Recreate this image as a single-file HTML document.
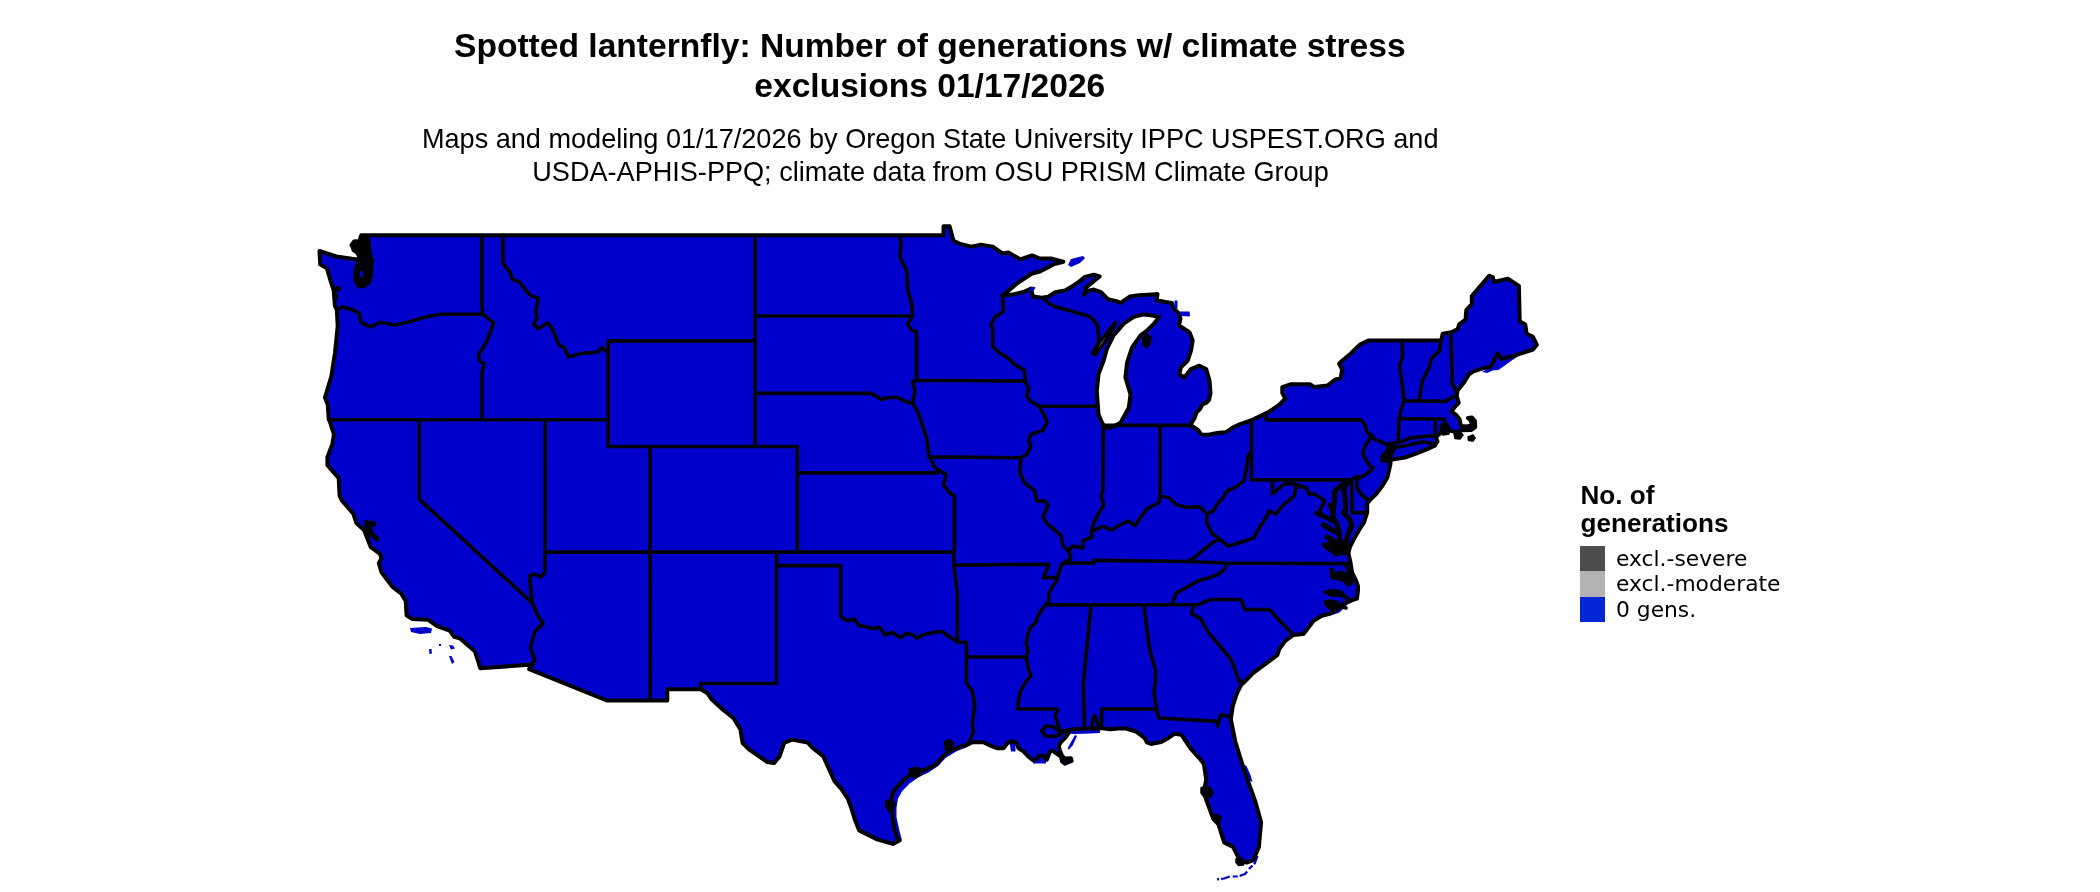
<!DOCTYPE html>
<html><head><meta charset="utf-8"><title>Spotted lanternfly generations map</title><style>html,body{margin:0;padding:0;background:#fff;width:2100px;height:892px;overflow:hidden}svg{display:block}text{will-change:transform}</style></head><body>
<svg width="2100" height="892" viewBox="0 0 2100 892">
<rect width="2100" height="892" fill="#fff"/>
<g font-family="Liberation Sans, Arial, sans-serif" fill="#000" text-anchor="middle">
<text x="929.8" y="56.9" font-size="33.6" font-weight="bold">Spotted lanternfly: Number of generations w/ climate stress</text>
<text x="929.8" y="96.9" font-size="33.6" font-weight="bold">exclusions 01/17/2026</text>
<text x="930.2" y="147.9" font-size="27.1">Maps and modeling 01/17/2026 by Oregon State University IPPC USPEST.ORG and</text>
<text x="930.5" y="180.5" font-size="27.1">USDA-APHIS-PPQ; climate data from OSU PRISM Climate Group</text>
</g>
<path fill="#0000cd" d="M1009.5,742.0 L1015.5,743.0 L1015.5,751.5 L1011.0,751.5Z M1032.0,757.5 L1046.0,757.0 L1046.0,763.5 L1033.0,763.5Z M1063.5,731.0 L1075.0,729.0 L1089.0,728.5 L1100.0,728.5 L1100.0,733.0 L1090.0,733.5 L1075.0,734.0 L1064.0,733.5Z M969.0,746.5 L957.0,751.0 L945.5,758.0 L938.5,765.8 L928.5,772.5 L919.0,777.0 L909.6,783.4 L902.3,791.0 L898.0,798.5 L896.5,808.0 L896.5,817.3 L899.3,830.0 L902.0,840.5 L899.6,840.5 L897.1,837.7 L893.9,826.7 L892.4,814.1 L890.8,804.7 L892.4,793.2 L897.1,786.9 L904.9,779.0 L912.8,772.8 L925.3,769.7 L935.0,765.0 L941.0,758.7 L947.3,752.4 L953.0,749.5 L961.0,746.5Z M1246.5,766.0 L1250.5,775.0 L1252.5,782.0 L1248.0,780.0 L1244.3,770.7 L1242.0,764.0Z M1359.0,583.0 L1360.0,590.0 L1358.5,599.5 L1347.5,604.5 L1339.5,612.5 L1329.0,616.0 L1329.7,613.7 L1335.8,610.7 L1341.9,604.6 L1349.9,600.6 L1357.0,598.5 L1358.0,586.4 L1356.0,580.4Z M1536.5,345.0 L1533.0,349.5 L1529.9,351.5 L1520.5,354.8 L1511.0,361.0 L1504.8,365.5 L1498.5,370.0 L1492.2,370.5 L1487.5,373.0 L1482.0,372.0 L1490.6,366.7 L1493.8,360.5 L1497.7,353.4 L1501.6,358.9 L1507.9,357.3 L1514.2,355.7 L1523.6,352.6Z"/>
<path fill="none" stroke="#0000cd" stroke-width="2.2" stroke-dasharray="9 2 5 3" stroke-linejoin="round" d="M1257.5,856.0 L1255.0,863.0 L1250.0,868.0 L1245.0,874.0 L1238.0,876.5 L1230.0,876.5 L1224.0,878.5 L1217.0,879.5"/>
<g stroke="#000" stroke-width="3.6" stroke-linejoin="round" stroke-linecap="round">
<path d="M361.2,235.3 L943.5,235.3 L943.5,226.3 L949.6,226.3 L953.5,240.7 L959.4,243.6 L971.2,246.6 L981.0,244.6 L992.7,246.6 L1002.5,253.4 L1008.4,252.5 L1020.2,259.3 L1032.0,255.4 L1039.8,258.5 L1050.8,258.5 L1063.3,261.7 L1053.5,264.4 L1040.0,271.5 L1032.0,273.5 L1018.2,282.5 L1002.5,295.6 L1012.4,294.6 L1024.1,291.7 L1031.0,288.5 L1033.0,296.5 L1041.8,297.8 L1048.1,296.6 L1055.3,292.2 L1065.1,290.4 L1071.4,286.8 L1079.5,281.4 L1084.9,276.9 L1093.8,274.7 L1099.7,276.5 L1095.6,279.6 L1090.2,284.1 L1085.8,287.7 L1084.0,294.9 L1086.6,291.3 L1093.8,289.5 L1101.0,292.2 L1108.2,299.3 L1116.3,301.1 L1120.7,302.9 L1129.7,296.6 L1138.7,295.3 L1152.1,294.4 L1157.5,294.0 L1156.6,300.2 L1165.6,302.0 L1171.9,302.9 L1173.7,308.3 L1179.0,313.7 L1180.5,318.5 L1179.0,325.5 L1189.4,332.1 L1192.7,340.5 L1191.0,350.6 L1187.7,360.7 L1180.9,367.4 L1179.3,374.1 L1184.3,377.5 L1191.0,369.1 L1199.4,365.7 L1206.2,369.1 L1209.5,380.2 L1210.5,393.3 L1209.0,400.0 L1206.0,403.0 L1202.5,404.0 L1200.0,409.0 L1196.4,412.5 L1194.4,418.5 L1190.5,424.6 L1198.4,430.6 L1201.4,434.4 L1208.5,434.8 L1218.6,432.8 L1225.7,432.3 L1233.7,427.0 L1240.8,423.8 L1250.9,420.5 L1260.7,415.9 L1269.1,411.7 L1279.4,404.6 L1285.2,398.7 L1282.3,392.9 L1282.3,387.1 L1291.0,384.2 L1310.0,384.2 L1314.4,387.1 L1327.5,385.6 L1334.8,379.8 L1340.6,378.3 L1342.1,369.6 L1339.1,363.7 L1342.1,360.8 L1350.8,353.5 L1359.6,344.8 L1368.3,340.5 L1441.2,340.5 L1442.7,333.6 L1451.4,332.2 L1457.7,329.1 L1459.2,324.4 L1465.5,319.6 L1466.3,310.2 L1471.8,304.0 L1471.8,296.1 L1489.1,275.7 L1493.0,277.3 L1493.8,282.0 L1507.9,278.8 L1518.9,285.9 L1519.7,321.2 L1525.2,324.4 L1526.7,333.8 L1533.0,336.9 L1536.9,344.8 L1533.0,349.5 L1523.6,352.6 L1514.2,355.7 L1507.9,357.3 L1501.6,358.9 L1497.7,353.4 L1493.8,360.5 L1490.6,366.7 L1482.8,368.3 L1473.4,371.4 L1468.7,374.6 L1464.0,382.4 L1457.7,390.3 L1456.6,395.6 L1458.7,402.9 L1454.4,407.3 L1451.5,411.7 L1455.8,414.6 L1459.5,419.0 L1460.9,426.0 L1467.5,426.5 L1471.5,424.5 L1471.0,420.5 L1468.0,418.0 L1472.0,417.5 L1475.0,421.0 L1475.2,427.0 L1471.0,430.0 L1461.7,430.3 L1455.8,432.1 L1450.0,430.6 L1444.2,430.6 L1438.3,435.0 L1436.0,437.5 L1437.5,441.5 L1434.6,445.8 L1427.3,449.1 L1416.0,453.6 L1404.8,457.6 L1390.8,459.8 L1390.3,464.8 L1389.1,470.0 L1387.4,477.4 L1382.0,486.4 L1376.6,493.5 L1371.2,498.9 L1369.4,500.7 L1367.2,503.6 L1367.2,512.6 L1363.9,522.7 L1359.4,529.4 L1354.9,537.2 L1350.4,546.2 L1348.2,552.4 L1350.4,561.9 L1352.0,572.3 L1356.0,580.4 L1358.0,586.4 L1357.0,598.5 L1349.9,600.6 L1341.9,604.6 L1335.8,610.7 L1329.7,613.7 L1321.7,615.7 L1313.6,620.7 L1307.5,628.8 L1303.5,633.9 L1293.4,634.9 L1285.3,640.9 L1279.3,649.0 L1277.3,655.1 L1269.2,661.1 L1261.1,667.2 L1253.0,673.2 L1247.0,679.3 L1240.9,685.3 L1236.9,693.4 L1232.9,705.5 L1231.3,716.0 L1230.8,719.1 L1235.3,741.5 L1244.3,770.7 L1255.5,802.0 L1261.1,822.2 L1258.9,846.9 L1253.2,860.3 L1246.5,862.5 L1239.8,860.3 L1233.1,846.9 L1224.1,842.4 L1218.5,824.5 L1212.9,817.7 L1206.2,799.8 L1204.0,790.8 L1206.2,779.6 L1203.9,764.0 L1199.5,758.3 L1190.5,748.3 L1181.5,734.8 L1174.8,733.7 L1168.1,738.2 L1161.1,742.0 L1151.0,744.0 L1147.0,742.5 L1144.5,738.0 L1136.0,731.5 L1126.0,728.5 L1118.7,728.5 L1110.6,729.3 L1104.0,728.5 L1101.5,728.0 L1096.0,728.5 L1089.0,728.5 L1084.4,728.5 L1077.0,729.0 L1070.0,730.0 L1063.5,731.0 L1060.4,731.5 L1068.5,733.3 L1064.9,738.2 L1060.9,742.2 L1058.9,745.6 L1059.5,749.6 L1062.2,756.0 L1064.9,758.5 L1071.0,758.3 L1071.6,761.0 L1064.9,763.7 L1062.2,761.7 L1060.9,756.5 L1055.5,752.8 L1052.1,750.5 L1050.1,751.5 L1046.8,759.7 L1044.1,756.0 L1039.4,755.5 L1036.0,759.5 L1032.6,760.0 L1027.9,756.3 L1023.9,751.6 L1018.5,748.2 L1016.5,742.9 L1011.1,740.8 L1007.1,743.5 L1003.7,748.2 L997.0,748.2 L990.3,745.6 L983.5,742.2 L973.5,742.2 L969.5,743.0 L969.1,744.0 L961.0,746.5 L953.0,749.5 L947.3,752.4 L941.0,758.7 L935.0,765.0 L925.3,769.7 L912.8,772.8 L904.9,779.0 L897.1,786.9 L892.4,793.2 L890.8,804.7 L892.4,814.1 L893.9,826.7 L897.1,837.7 L899.6,840.5 L892.8,843.9 L877.1,839.4 L859.2,830.4 L854.7,819.2 L851.3,808.0 L848.0,799.0 L841.3,788.9 L834.5,781.1 L823.3,756.4 L812.1,747.4 L807.6,742.5 L791.9,739.6 L784.1,743.0 L779.6,756.4 L774.0,763.1 L767.3,762.0 L749.3,749.7 L742.6,743.0 L740.4,729.5 L733.6,718.3 L722.4,709.3 L711.6,699.4 L707.6,693.3 L700.6,689.3 L667.3,689.3 L667.3,700.4 L606.7,700.4 L529.1,669.1 L532.2,664.5 L480.2,668.3 L478.4,662.0 L474.8,651.2 L460.4,638.7 L454.2,636.9 L449.7,630.6 L437.1,626.1 L428.2,619.8 L412.0,618.9 L406.6,615.3 L405.7,601.0 L401.3,593.8 L392.3,586.6 L381.5,572.3 L378.8,563.3 L381.5,558.0 L379.7,553.5 L370.8,547.2 L367.8,539.5 L364.0,530.0 L356.5,523.3 L353.3,513.6 L342.0,500.7 L339.6,495.9 L338.7,478.1 L327.4,465.2 L327.4,457.1 L332.3,444.2 L333.9,434.5 L329.9,421.6 L328.7,419.5 L327.8,404.8 L325.0,397.6 L331.4,376.0 L335.0,352.8 L337.7,325.9 L336.8,309.7 L335.0,306.1 L333.6,290.0 L330.9,281.9 L326.9,268.4 L320.2,264.4 L319.5,251.0 L336.3,256.5 L352.0,258.8 L358.0,259.5 L361.5,252.4 L355.8,251.0 L351.5,245.2 L354.0,241.5 L359.5,241.0 L360.6,237.0Z" fill="#0000cd" stroke-width="4"/>
<path d="M1150.7,315.2 L1159.1,316.9 L1154.0,323.6 L1147.3,330.4 L1140.6,335.4 L1132.2,347.2 L1127.1,362.3 L1125.4,377.5 L1130.5,394.3 L1128.8,407.8 L1120.4,422.9 L1110.3,428.0 L1103.6,426.3 L1098.5,414.5 L1096.8,391.0 L1098.5,374.1 L1103.6,360.7 L1106.9,348.9 L1113.6,335.4 L1123.7,323.6 L1133.8,316.9 L1143.9,314.4Z" fill="#fff" stroke-width="4"/>
<path d="M1092.5,353.5 L1099.0,343.0 L1105.0,335.5 L1111.0,328.0 L1115.5,322.5 L1113.0,329.0 L1107.5,338.0 L1101.0,347.0 L1095.5,354.5Z" fill="#fff"/>
<path fill="none" d="M336.8,309.7 L343.0,307.0 L352.0,309.7 L359.2,313.3 L361.0,322.3 L370.0,326.8 L380.7,322.3 L395.0,325.0 L407.6,322.3 L425.6,317.0 L440.0,314.2 L483.0,314.2 M481.8,235.3 L481.8,307.6 L483.0,314.2 M483.0,314.2 L493.7,323.2 L486.5,342.0 L478.5,354.6 L479.4,360.6 L484.1,364.1 L482.0,372.5 L482.0,419.8 M328.7,419.8 L608.2,419.8 M419.3,419.8 L419.3,499.3 L532.2,602.8 M532.2,602.8 L537.6,615.3 L543.0,623.4 L534.9,631.5 L530.4,647.6 L534.9,660.2 L532.2,664.5 M532.2,602.8 L529.5,575.9 L534.0,574.0 L541.2,576.8 L544.8,572.3 L545.2,551.9 L545.2,419.8 M502.9,235.3 L502.9,262.9 L510.0,272.4 L512.4,279.4 L519.4,281.8 L526.5,291.2 L531.2,295.9 L538.2,298.2 L535.9,312.4 L537.1,318.2 L533.5,324.1 L538.2,328.8 L547.6,322.9 L552.4,328.8 L557.1,340.6 L559.4,345.3 L564.1,347.6 L568.8,357.1 L580.6,353.5 L597.1,352.4 L601.8,347.6 L607.6,352.4 L608.2,340.9 M608.2,340.9 L755.2,340.9 M608.2,340.9 L608.2,446.5 M608.2,446.5 L797.3,446.5 M650.2,446.5 L650.2,700.4 M545.2,552.1 L953.8,552.1 M755.2,235.3 L755.2,446.5 M755.2,316.0 L912.6,315.9 M755.2,393.4 L871.3,393.4 L882.0,399.8 L886.2,397.7 L896.9,397.3 L909.6,403.0 L912.8,403.0 M797.3,472.9 L937.3,472.9 M797.3,446.5 L797.3,552.1 M900.0,235.3 L900.9,243.5 L900.0,257.2 L906.8,270.8 L907.8,290.3 L911.7,304.0 L912.6,315.7 L907.8,323.5 L910.7,329.3 L916.5,332.2 L916.5,380.2 L912.6,382.0 L914.6,389.7 L915.0,391.3 L912.8,402.0 L912.8,403.0 L918.2,412.6 L922.4,425.4 L926.7,438.2 L928.8,455.2 L935.2,468.0 L945.9,474.4 L943.7,485.0 L950.1,493.6 L954.4,495.7 L954.4,552.1 M916.5,380.2 L1024.7,381.0 M1002.5,295.6 L1003.5,311.3 L994.7,317.2 L990.8,325.0 L992.7,328.9 L992.7,346.6 L998.6,352.5 L1008.4,358.3 L1014.3,364.2 L1024.1,370.1 L1025.5,381.0 M1024.7,381.0 L1028.8,388.1 L1026.8,396.1 L1030.8,401.2 L1038.9,406.2 L1044.9,416.3 L1046.9,422.4 L1042.9,430.4 L1030.8,434.5 L1028.8,440.5 L1030.8,446.6 L1026.8,454.7 L1020.7,457.7 L1020.7,460.7 L1019.7,472.8 L1024.7,482.9 L1034.8,491.0 L1036.9,501.1 L1044.9,501.1 L1048.0,505.1 L1042.9,517.2 L1046.9,523.3 L1061.1,535.4 L1063.1,545.5 L1068.7,551.5 L1070.0,555.0 L1070.0,559.5 L1062.4,563.3 L1058.6,572.9 L1056.7,580.5 L1052.9,586.2 L1049.0,593.8 L1049.0,601.4 L1045.2,605.2 L1039.5,612.9 L1035.7,622.4 L1030.0,628.1 L1028.1,633.8 L1026.2,643.3 L1028.1,651.0 L1026.2,656.7 L1028.1,668.1 L1031.0,675.7 L1026.2,681.4 L1020.5,691.0 L1018.6,700.5 L1017.4,709.0 M1017.4,709.0 L1056.7,709.0 L1057.8,710.0 L1055.1,715.3 L1056.9,720.7 L1059.6,729.7 M928.8,456.9 L1020.7,457.7 M776.6,552.1 L776.6,683.5 M776.6,565.6 L840.8,565.6 M840.8,565.6 L840.8,616.2 L847.1,620.7 L854.3,618.9 L858.8,625.2 L866.8,627.0 L874.0,628.8 L879.4,627.0 L884.8,635.0 L892.0,632.4 L900.9,637.7 L906.3,633.3 L913.5,635.0 L917.1,638.6 L922.4,635.0 L933.2,632.4 L942.2,631.5 L949.3,636.8 L958.3,642.2 L966.4,642.2 M953.8,552.1 L953.8,565.1 L957.4,593.8 L957.4,642.2 M954.4,565.1 L1049.0,564.3 L1043.3,577.6 L1056.7,577.6 M966.4,642.2 L966.4,683.0 L972.4,691.4 L974.7,704.8 L972.4,722.8 L973.5,731.7 L969.1,743.0 M966.4,657.0 L1026.4,657.0 M700.6,689.3 L700.6,683.5 L776.6,683.5 M1045.0,299.2 L1049.0,303.8 L1057.9,307.4 L1071.4,311.0 L1080.4,313.7 L1089.3,316.4 L1093.8,320.0 L1097.4,325.4 L1098.6,334.8 L1098.6,342.6 L1093.5,352.2 M1038.9,406.2 L1097.4,406.2 M1103.4,424.4 L1102.8,490.5 L1101.0,495.9 L1103.7,504.8 L1097.4,515.6 L1093.8,522.8 L1091.1,531.7 M1068.7,551.5 L1072.3,546.1 L1083.0,547.9 L1083.0,540.7 L1092.0,537.1 L1091.1,531.7 L1102.8,526.4 L1111.7,530.0 L1118.9,525.5 L1127.9,521.0 L1135.1,525.5 L1140.4,517.4 L1147.6,508.4 L1158.4,503.0 L1160.2,495.9 L1169.1,497.7 L1176.3,504.8 L1187.1,507.5 L1199.6,506.6 L1206.8,513.8 L1213.6,510.9 L1217.0,504.2 L1222.0,499.1 L1227.1,490.7 L1235.5,487.4 L1243.9,480.6 L1246.4,468.9 L1248.1,455.4 L1251.5,452.0 M1103.6,425.4 L1189.4,425.4 L1197.8,429.6 M1160.2,425.4 L1160.2,495.9 M1251.5,421.8 L1251.5,479.8 M1063.3,563.1 L1093.8,563.1 L1093.8,560.4 L1187.1,561.5 L1226.5,563.0 L1348.5,563.6 M1187.1,561.3 L1194.3,557.8 L1201.4,551.5 L1210.4,544.3 L1219.4,538.9 L1212.2,533.5 L1206.8,522.8 L1206.8,513.8 M1219.4,538.9 L1228.3,546.1 L1233.8,544.5 L1243.9,541.2 L1254.0,537.8 L1257.4,531.1 L1265.8,517.6 L1269.1,510.9 L1275.8,514.3 L1280.9,507.5 L1284.3,504.2 L1294.3,495.8 L1296.0,486.5 L1306.1,487.4 M1272.5,479.8 L1272.5,494.0 L1284.3,484.0 L1294.3,484.0 L1306.1,487.4 L1309.5,494.1 L1314.5,494.1 L1324.6,500.8 L1319.6,510.9 L1322.9,515.9 L1328.0,519.3 L1335.9,522.7 L1339.2,531.6 M1251.5,479.9 L1351.5,479.9 M1351.5,479.9 L1352.1,512.6 L1365.0,512.6 M1351.5,479.9 L1355.0,477.3 L1359.0,476.5 M1172.7,601.7 L1176.3,592.7 L1183.5,589.1 L1199.6,580.2 L1206.8,578.4 L1217.6,574.8 L1224.8,569.4 L1226.5,564.0 M1047.1,604.9 L1198.5,604.6 M1198.5,604.6 L1210.6,599.5 L1240.9,599.5 L1245.0,609.6 L1269.2,609.6 L1293.4,634.9 M1194.0,605.5 L1192.5,609.6 L1191.5,613.7 L1200.6,618.7 L1208.6,632.9 L1220.7,647.0 L1230.8,659.1 L1234.9,669.2 L1238.9,681.3 L1245.0,681.3 M1091.0,605.2 L1087.1,645.2 L1083.3,683.3 L1084.3,719.9 L1084.4,728.5 M1144.0,605.3 L1148.3,640.0 L1150.5,653.0 L1155.5,670.0 L1155.5,681.3 L1153.9,691.4 L1155.8,705.7 L1158.0,714.6 M1101.5,728.0 L1101.7,709.0 L1155.5,709.0 L1158.0,714.6 L1159.1,718.0 L1217.4,721.4 L1217.4,725.9 L1220.8,714.6 L1231.0,716.9 M1266.2,413.3 L1266.2,419.9 L1361.0,419.9 L1365.6,425.6 L1366.2,431.2 L1371.2,435.1 L1372.7,435.6 M1371.2,436.8 L1365.0,446.3 L1362.8,453.6 L1365.6,459.2 L1371.2,467.6 L1373.0,467.5 L1371.2,470.2 L1364.0,475.6 L1356.9,479.2 L1356.9,488.2 L1362.2,495.3 L1369.4,500.7 M1369.5,436.8 L1391.4,446.3 M1401.9,340.5 L1402.6,356.2 L1399.7,365.0 L1401.1,376.7 L1404.1,400.0 L1400.4,411.7 L1399.0,420.4 L1398.1,442.4 M1441.2,340.5 L1440.0,345.0 L1439.8,350.4 L1431.0,359.0 L1429.6,366.5 L1422.3,381.0 L1419.4,398.5 L1419.4,401.0 M1404.0,400.7 L1445.6,401.4 L1452.9,397.1 L1456.6,395.6 M1450.7,334.4 L1451.4,350.0 L1452.2,384.0 L1455.8,389.8 L1456.6,395.6 M1399.0,418.5 L1435.4,419.0 L1444.2,419.0 L1445.6,426.2 M1435.4,419.0 L1435.4,437.2 M1393.1,443.5 L1402.0,441.3 L1410.4,437.9 L1421.7,436.8 L1432.9,435.7 L1436.0,436.0 M1391.0,448.5 L1404.8,445.8 L1421.7,441.9 L1432.9,443.5 L1435.0,445.5 M1349.3,481.2 L1340.3,485.7 L1333.6,492.4 L1334.7,501.4 L1332.5,512.6 L1332.5,518.2 L1337.0,523.8 L1339.2,531.6 L1339.2,542.8 L1342.6,548.4 L1345.9,551.8 L1348.2,552.9 M1349.3,481.2 L1344.8,484.6 L1342.6,490.2 L1344.8,498.0 L1345.9,509.2 L1342.6,512.6 L1347.1,515.9 L1350.4,520.4 L1352.7,526.0 L1349.3,532.7 L1345.9,539.5 L1347.1,547.3 L1348.2,551.8 M1326.0,525.0 L1337.0,533.0 M1329.0,537.0 L1338.0,544.0 M1325.0,545.0 L1341.0,553.0 M1346.0,566.0 L1350.0,574.0 L1352.0,582.0 M1325.0,592.0 L1338.0,594.0 L1348.0,598.0 M1327.0,602.0 L1338.0,606.0 L1346.0,608.0 M1091.5,728.5 L1093.0,719.0 L1095.0,715.5 L1097.0,721.0 L1099.0,728.5 M1041.5,731.0 L1046.0,726.0 L1053.0,726.5 L1058.0,730.0 L1060.0,735.0 L1054.0,736.5 L1046.0,736.0 L1041.5,731.0"/>
<path fill="#000" stroke-width="1.5" d="M360.4,236.0 L367.0,236.5 L369.4,239.0 L370.1,245.9 L370.8,251.7 L371.6,256.7 L373.7,260.3 L372.5,265.0 L362.0,265.0 L361.5,260.3 L358.5,257.0 L356.0,253.5 L352.5,251.0 L351.3,246.0 L354.0,241.5 L360.0,241.5 L360.4,238.0Z M334.0,287.5 L339.0,286.5 L341.0,289.0 L338.0,291.0 L334.0,291.5Z M333.5,294.5 L337.0,294.0 L338.0,297.5 L335.0,300.0 L333.5,299.0Z M364.6,521.0 L374.3,521.7 L375.9,525.0 L371.5,527.0 L372.6,532.0 L379.1,538.2 L377.5,541.1 L371.0,536.5 L367.8,536.0 L366.2,530.0 L365.2,525.0Z M1388.0,442.5 L1395.0,442.5 L1395.0,450.0 L1391.5,456.0 L1390.6,462.0 L1381.5,462.0 L1381.0,456.0 L1386.0,451.0Z M1454.0,433.0 L1460.0,431.5 L1463.0,435.0 L1460.0,439.0 L1455.0,438.5Z M1468.0,437.0 L1473.0,435.0 L1475.0,438.0 L1473.0,441.0 L1468.5,440.5Z M1441.0,424.0 L1447.0,423.0 L1450.0,428.0 L1449.0,434.0 L1443.0,435.0 L1440.0,430.0Z M1143.0,337.0 L1147.0,334.0 L1151.0,337.0 L1150.0,344.0 L1146.0,348.0 L1142.5,344.0Z M1201.0,788.0 L1205.0,786.0 L1211.0,788.0 L1213.0,793.0 L1210.0,798.0 L1204.0,797.0 L1201.0,793.0Z M1212.0,815.0 L1217.0,814.5 L1221.0,817.0 L1220.0,822.0 L1215.0,822.5 L1212.0,819.0Z M1236.0,859.0 L1240.0,857.5 L1244.0,860.0 L1243.5,865.0 L1238.5,865.5 L1236.0,862.5Z M1325.0,545.0 L1330.0,541.0 L1338.0,540.0 L1345.0,541.0 L1347.0,548.0 L1343.0,553.0 L1336.0,556.0 L1331.0,552.0 L1326.0,549.0Z M1330.0,569.0 L1333.0,568.5 L1334.0,573.0 L1341.0,571.5 L1347.0,573.0 L1351.0,579.0 L1351.5,584.0 L1348.0,586.0 L1343.0,581.0 L1336.0,579.5 L1331.0,578.0Z M1325.0,591.5 L1330.0,590.0 L1338.0,590.0 L1343.0,592.5 L1345.0,595.5 L1339.0,596.0 L1330.0,596.0Z M1324.0,601.5 L1330.0,600.0 L1338.0,601.5 L1340.0,605.5 L1337.0,609.5 L1331.0,610.0 L1326.0,606.0Z M945.0,741.0 L950.0,739.5 L953.5,743.0 L952.0,750.0 L947.0,752.0 L944.5,747.0Z M909.0,769.0 L915.0,767.5 L922.0,769.0 L921.0,775.0 L914.0,778.0 L909.5,775.0Z M886.0,801.0 L891.5,800.0 L895.0,804.0 L893.5,810.5 L889.0,812.0 L886.0,807.0Z"/>
<path fill="#000" stroke="none" d="M356,262 L362,259 L370,259.5 L373.5,266 L373,276 L370.5,284 L364,288.5 L357,287.5 L353.5,281 L353.5,271Z"/><ellipse cx="361.5" cy="274" rx="1.8" ry="3.2" fill="#0000cd" stroke="none"/>
<path fill="none" stroke-width="5" d="M1349.3,481.2 L1340.3,485.7 L1335.0,491.0 L1334.7,501.4 L1333.0,512.6 L1333.5,518.2 L1337.0,523.8 L1339.2,531.6 L1339.5,542.8 L1342.6,548.4 L1346.5,552.0 M1349.3,481.2 L1345.5,484.6 L1344.0,490.2 L1345.0,498.0 L1345.5,509.2 L1344.0,513.0 L1347.1,516.5 L1350.4,520.4 L1351.5,526.0 L1348.5,532.7 L1346.5,539.5 L1347.1,547.3 L1348.2,551.8 M1316.8,513.0 L1324.0,516.5 L1333.0,520.0 M1323.5,525.0 L1330.0,529.0 L1338.0,533.0 M1327.0,537.0 L1333.0,540.5 L1339.0,544.0 M1324.0,545.0 L1331.0,548.5 L1338.0,551.0 L1345.0,553.0 M1330.0,505.0 L1333.0,512.0"/>
</g>
<path fill="#0000cd" d="M1068.0,265.0 L1071.0,259.0 L1083.0,256.0 L1085.0,258.0 L1080.0,263.0 L1071.0,267.0Z M410.0,628.0 L418.0,627.5 L426.0,627.0 L432.0,628.5 L431.0,633.0 L420.0,634.0 L411.0,632.0Z M429.0,649.0 L431.5,649.0 L432.0,653.5 L429.5,654.0Z M449.0,645.0 L453.0,645.5 L455.0,648.5 L451.0,649.5Z M449.0,656.0 L451.5,656.0 L454.5,662.0 L452.0,664.0Z M439.0,644.0 L441.0,644.0 L441.0,646.0 L439.0,646.0Z M1174.5,300.5 L1177.5,300.5 L1177.5,309.0 L1174.5,308.0Z M1179.0,311.5 L1189.5,311.5 L1190.0,316.5 L1181.0,316.0Z M1029.0,290.0 L1033.0,286.5 L1035.5,287.5 L1033.0,292.0Z M1075.0,735.0 L1077.0,736.0 L1073.0,745.0 L1069.0,749.5 L1067.5,748.5 L1071.0,742.0Z"/>
<g font-family="Liberation Sans, Arial, sans-serif" font-weight="bold" font-size="26.1" fill="#000">
<text x="1580.5" y="504">No. of</text><text x="1580.5" y="531.6">generations</text></g>
<rect x="1580" y="546" width="25" height="25" fill="#4d4d4d"/>
<rect x="1580" y="571" width="25" height="26" fill="#b3b3b3"/>
<rect x="1580" y="597" width="25" height="25" fill="#0026d6"/>
<g font-family="DejaVu Sans, sans-serif" font-size="21.8" fill="#000">
<text x="1616" y="566.2">excl.-severe</text><text x="1616" y="591">excl.-moderate</text><text x="1616" y="617">0 gens.</text></g>
</svg>
</body></html>
